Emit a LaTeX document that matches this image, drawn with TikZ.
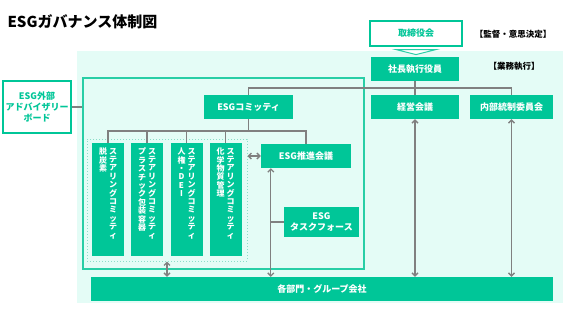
\documentclass[tikz,border=0pt]{standalone}
\usepackage{fontspec}
\setmainfont{Noto Sans CJK JP}
\usepackage{xcolor}
\usetikzlibrary{arrows.meta, positioning}
\definecolor{esggreen}{RGB}{0,198,152}
\definecolor{esgframe}{RGB}{40,206,166}
\definecolor{esglight}{RGB}{228,252,246}
\definecolor{esgdots}{RGB}{140,222,200}
\definecolor{linegray}{RGB}{128,128,128}

\begin{document}
\begin{tikzpicture}[x=1pt, y=-1pt,
    box/.style={fill=esggreen, text=white, font=\fontsize{9}{11}\selectfont\bfseries,
        minimum height=24pt, inner sep=0pt, align=center},
    outbox/.style={draw=esggreen, line width=1.2pt, fill=white, text=esggreen,
        font=\fontsize{9}{11}\selectfont\bfseries, inner sep=0pt, align=center},
    scbox/.style={fill=esggreen, minimum width=32pt, minimum height=113pt, inner sep=0pt},
    tate/.style={text=white, font=\fontsize{8}{8.4}\selectfont\bfseries, align=center,
        anchor=north, inner sep=0pt},
    tag/.style={font=\fontsize{8.5}{10}\selectfont\bfseries},
    conn/.style={draw=linegray, line width=1.3pt},
    both/.style={conn, {Straight Barb[length=3pt,width=6pt]}-{Straight Barb[length=3pt,width=6pt]}}]
    \useasboundingbox (0,0) rectangle (567,319);
    \fill[esglight] (77,51) rectangle (563,303);

    \node[anchor=west, font=\fontsize{15}{17}\selectfont\bfseries] (title) at (4,22) {ESGガバナンス体制図};

    \node[outbox, minimum width=92pt, minimum height=25pt] (board) at (416,33.5) {取締役会};
    \draw[draw=esgframe, fill=white, line width=1pt] (board.south) ++(-20,3) -- ++(40,0) -- ++(-20,5) -- cycle;
    \node[tag] (tagboard) at (513,34) {【監督・意思決定】};
    \node[box, minimum width=88pt] (ceo) at (415,69) {社長執行役員};
    \node[tag] (tagceo) at (514,66) {【業務執行】};

    \node[draw=esgframe, line width=1.2pt, minimum width=281pt, minimum height=191pt] (frame) at (223.5,173.5) {};
    \node[draw=esgdots, dotted, line width=1pt, minimum width=160pt, minimum height=122pt] (dotbox) at (167,200) {};

    \node[box, minimum width=88pt] (mgmt) at (415,107) {経営会議};
    \node[box, minimum width=83pt] (ic) at (511.5,107) {内部統制委員会};
    \node[box, minimum width=89pt] (esgc) at (248.5,107) {ESGコミッティ};
    \node[outbox, minimum width=68pt, minimum height=52pt] (adv) at (37,107) {ESG外部\\アドバイザリー\\ボード};

    \node[scbox] (sc1) at (108,199.5) {};
    \node[scbox] (sc2) at (147,199.5) {};
    \node[scbox] (sc3) at (186.5,199.5) {};
    \node[scbox] (sc4) at (225.5,199.5) {};
    \foreach \s in {sc1,sc2,sc3,sc4}
        \node[tate] (\s r) at ([xshift=5pt, yshift=-5pt]\s.north) {ス\\テ\\ア\\リ\\ン\\グ\\コ\\ミ\\ッ\\テ\\ィ};
    \node[tate] (sc1l) at ([xshift=-5pt, yshift=-5pt]sc1.north) {脱\\炭\\素};
    \node[tate] (sc2l) at ([xshift=-5pt, yshift=-5pt]sc2.north) {プ\\ラ\\ス\\チ\\ッ\\ク\\包\\装\\容\\器};
    \node[tate] (sc3l) at ([xshift=-5pt, yshift=-5pt]sc3.north) {人\\権\\・\\D\\E\\I};
    \node[tate] (sc4l) at ([xshift=-5pt, yshift=-5pt]sc4.north) {化\\学\\物\\質\\管\\理};

    \node[box, minimum width=90pt] (promo) at (306,156) {ESG推進会議};
    \node[box, minimum width=75pt, minimum height=30pt] (tf) at (321.5,222) {ESG\\タスクフォース};
    \node[box, minimum width=462pt] (all) at (322,289) {各部門・グループ会社};

    \coordinate (topbus) at (0,88);
    \coordinate (scbus) at (0,131);
    \coordinate (pd) at ([xshift=10pt]promo.south west);

    \draw[conn] (adv.east) -- (adv.east -| frame.west);
    \draw[conn] (ceo.south) -- (mgmt.north);
    \draw[conn] (esgc.north) -- (esgc.north |- topbus) -- (ic.north |- topbus) -- (ic.north);
    \draw[conn] (esgc.south) -- (esgc.south |- scbus);
    \draw[conn] (sc1.north) -- (sc1.north |- scbus) -- (promo.north |- scbus) -- (promo.north);
    \foreach \s in {sc2,sc3,sc4}
        \draw[conn] (\s.north) -- (\s.north |- scbus);
    \draw[conn] (tf.west) -- (tf.west -| pd);

    \draw[both] (dotbox.east |- promo.west) -- (promo.west);
    \draw[both] (dotbox.south) -- (dotbox.south |- all.north);
    \draw[both] (pd) -- (pd |- all.north);
    \draw[both] (mgmt.south) -- (mgmt.south |- all.north);
    \draw[both] (ic.south) -- (ic.south |- all.north);
\end{tikzpicture}
\end{document}
